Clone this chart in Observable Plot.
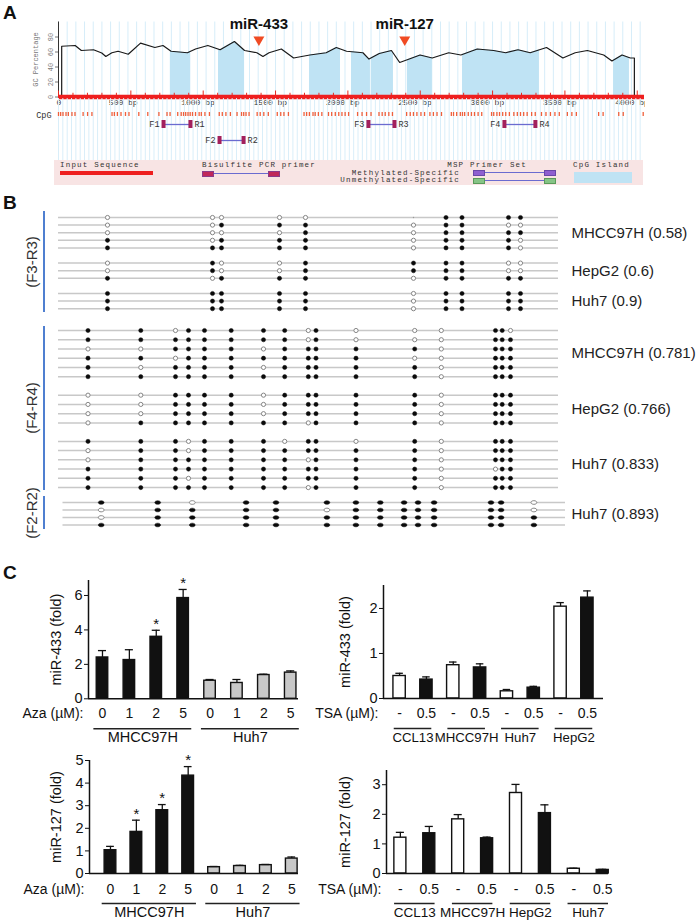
<!DOCTYPE html>
<html><head><meta charset="utf-8">
<script src="https://cdn.jsdelivr.net/npm/d3@7"></script>
<script src="https://cdn.jsdelivr.net/npm/@observablehq/plot@0.6"></script>
<style>
html,body{margin:0;padding:0;background:#fff;}
#fig{position:relative;width:700px;height:924px;overflow:hidden;background:#fff;}
#fig svg{display:block;}
</style></head>
<body><div id="fig"></div>
<script>
// ================= DATA =================
// Panel A: GC percentage profile (bp, %)
const gcBp  = [22,22,115,158,242,299,327,369,412,482,567,666,722,778,891,947,1032,1117,1216,1286,1371,1413,1455,1540,1625,1737,1850,1920,1991,2104,2146,2217,2301,2358,2429,2499,2583,2697,2781,2894,3007,3091,3176,3260,3373,3486,3571,3655,3768,3825,3895,3952,3980,3980];
const gcPct = [0,67.7,68.7,62,63,58.7,54,59,61,57,71.8,66,68.7,61,59,64,68.7,63,74,62,59,54,59,64,52,56,59,66,61,59,50.6,58,62,46,51,56,52,59,56,64,62,59,63,59,66,52,59,62,56,48,56,52,52,0];
const islandStart = [773,1106,1735,2025,2163,2412,2792,3836];
const islandEnd   = [914,1286,1949,2156,2315,2584,3324,3946];
const mirNames = ["miR-433","miR-127"];
const mirBp = [1385,2393];
const bpTicks = [0,500,1000,1500,2000,2500,3000,3500,4000];
const gcTicks = [0,20,40,60,80];
const cpgSites = [0,15,31,52,68,93,114,170,201,231,370,386,407,432,463,487,555,617,694,750,771,824,848,864,879,895,910,926,947,972,987,1012,1043,1111,1132,1157,1188,1234,1265,1280,1296,1317,1373,1394,1419,1450,1512,1536,1558,1589,1697,1715,1734,1759,1774,1796,1820,1866,1888,1913,1937,1959,1981,2005,2067,2098,2129,2160,2215,2237,2258,2283,2308,2406,2431,2453,2477,2505,2530,2567,2591,2616,2647,2715,2730,2752,2777,2792,2807,2832,2854,2875,2900,2925,2993,3008,3030,3048,3070,3091,3116,3147,3171,3193,3215,3239,3270,3295,3338,3369,3400,3431,3461,3517,3548,3579,3733,3764,3872,3903,4041];
const primerIds  = ["1","2","3","4"];
const primerF    = [726,1113,2142,3082];
const primerR    = [912,1279,2322,3296];
const primerLane = ["upper","lower","upper","upper"];

// Panel B: bisulfite sequencing (1 = methylated, 0 = unmethylated, . = not read)
const f3Sites = [49,154,163,221,247,355,387.5,403.5,450,462];
const f3Names = ["MHCC97H (0.58)","HepG2 (0.6)","Huh7 (0.9)"];
const f3Mhcc  = ["00000.1111","0011101100","0000101111","1011101110","1111101110"];
const f3Hepg2 = ["0100111100","0100111100","1011101111"];
const f3Huh7  = ["1111101111","1111101111","1111101111"];

const f4Sites = [29.5,82.3,117,130,146,172.7,205,226.2,249.8,257.5,297.5,356.2,382.8,437,443.7,452];
const f4Names = ["MHCC97H (0.781)","HepG2 (0.766)","Huh7 (0.833)"];
const f4Mhcc  = ["1101111101000110","1111111101000111","0011110111110111","1101111111100111","1011110111110111","1111111111110111"];
const f4Hepg2 = ["0011110111110111","0011110111110111","0011110111110111","0111111101110111"];
const f4Huh7  = ["1110111011010111","0110111111110111","0111111101110111","1111111111110011","1110111111110111","1111111101110111"];

const f2Sites = [38.2,94.7,129.3,183.1,213,263.9,292.9,317.3,341.1,355,371.1,428,438.1,470.9];
const f2Names = ["Huh7 (0.893)"];
const f2Huh7 = ["11011111111110","01111011111110","01111111111111","11111111111111"];

// Panel C
const azaLabels = ["0","1","2","5","0","1","2","5"];
const azaGroups = ["MHCC97H","Huh7"];
const azaGroupStart = [0,4], azaGroupEnd = [3,7];
const c1Val = [2.4,2.25,3.6,5.85,1.05,0.92,1.38,1.52];
const c1Sd  = [0.4,0.6,0.38,0.5,0.07,0.2,0.05,0.1];
const c1Star = [0,0,1,1,0,0,0,0];
const c3Val = [1.03,1.84,2.8,4.33,0.28,0.33,0.37,0.66];
const c3Sd  = [0.17,0.52,0.25,0.4,0.03,0.03,0.03,0.07];
const c3Star = [0,1,1,1,0,0,0,0];
const tsaLabels = ["-","0.5","-","0.5","-","0.5","-","0.5"];
const c2Groups = ["CCL13","MHCC97H","Huh7","HepG2"];
const c4Groups = ["CCL13","MHCC97H","HepG2","Huh7"];
const tsaGroupStart = [0,2,4,6], tsaGroupEnd = [1,3,5,7];
const c2Val = [0.5,0.42,0.74,0.69,0.16,0.24,2.04,2.24];
const c2Sd  = [0.06,0.06,0.07,0.08,0.04,0.03,0.09,0.15];
const c4Val = [1.21,1.36,1.83,1.19,2.72,2.04,0.16,0.12];
const c4Sd  = [0.18,0.23,0.16,0.04,0.29,0.28,0.02,0.02];
const noStar = [0,0,0,0,0,0,0,0];

// ================= HELPERS =================
const FONT = '"Liberation Sans", Arial, Helvetica, sans-serif';
const MONO = '"Liberation Mono", "DejaVu Sans Mono", monospace';
const fig = document.getElementById("fig");
function place(node, left, top) {
  const d = document.createElement("div");
  d.style.cssText = `position:absolute;left:${left}px;top:${top}px;`;
  d.appendChild(node); fig.appendChild(d); return d;
}
function html(text, css) {
  const d = document.createElement("div");
  d.style.cssText = "position:absolute;white-space:nowrap;" + css;
  if (text != null) d.textContent = text;
  fig.appendChild(d); return d;
}
const triDown = {draw(ctx, size) {
  const r = Math.sqrt(size / Math.PI);
  ctx.moveTo(-r, -0.8 * r); ctx.lineTo(r, -0.8 * r); ctx.lineTo(0, 0.9 * r); ctx.closePath();
}};
const ellipse = {draw(ctx, size) {
  const r = Math.sqrt(size / Math.PI); const ry = r / 1.25, rx = ry * 1.6, k = 0.5523;
  ctx.moveTo(rx, 0);
  ctx.bezierCurveTo(rx, k * ry, k * rx, ry, 0, ry);
  ctx.bezierCurveTo(-k * rx, ry, -rx, k * ry, -rx, 0);
  ctx.bezierCurveTo(-rx, -k * ry, -k * rx, -ry, 0, -ry);
  ctx.bezierCurveTo(k * rx, -ry, rx, -k * ry, rx, 0);
  ctx.closePath();
}};

// ================= PANEL A =================
const gc = gcBp.map((bp, i) => ({bp, pct: gcPct[i]}));
const mirs = mirNames.map((name, i) => ({name, bp: mirBp[i]}));
const A1H = 112, A1base = 96.5, A1top = 21.5;
const a1 = Plot.plot({
  width: 645, height: A1H,
  marginLeft: 58, marginRight: 1, marginTop: A1top, marginBottom: A1H - A1base,
  style: {background: "transparent", fontFamily: MONO, color: "#333"},
  x: {domain: [0, 4050], axis: null},
  y: {domain: [0, 100], axis: null},
  marks: [
    Plot.ruleX(d3.range(0, 4050, 60), {stroke: "#d6edf9", strokeWidth: 1}),
    Plot.areaY(gc, {x: "bp", y: "pct", fill: "#bfe3f4"}),
    Plot.line(gc, {x: "bp", y: "pct", stroke: "#1a1a1a", strokeWidth: 1.2}),
    Plot.ruleX([0], {y1: 0, y2: 100, stroke: "#333", strokeWidth: 1}),
    Plot.axisY({ticks: gcTicks, tickSize: 3, tickRotate: -90, tickPadding: 3, fontSize: 7, color: "#777",
      label: "GC Percentage", labelAnchor: "center", labelOffset: 25, labelArrow: "none", fontFamily: MONO}),
    Plot.ruleX(d3.range(0, 4001, 100), {y1: 0, y2: d => d % 500 === 0 ? 8 : 5, stroke: "#e8281e", strokeWidth: 1}),
    Plot.ruleY([0], {stroke: "#ee1f1f", strokeWidth: 4.5}),
    Plot.text(bpTicks.filter(d => d === 0), {x: d => d, text: d => String(d), frameAnchor: "bottom", dy: 8, textAnchor: "start", dx: -2, fontSize: 8, fill: "#333"}),
    Plot.text(bpTicks.filter(d => d > 0), {x: d => d, text: d => d + " bp", frameAnchor: "bottom", dy: 8, textAnchor: "start", dx: -22, fontSize: 8, fill: "#333"}),
    Plot.dot(mirs, {x: "bp", frameAnchor: "top", dy: 19, symbol: triDown, r: 5.5, fill: "#f04b23", stroke: "none"}),
    Plot.text(mirs, {x: "bp", text: "name", frameAnchor: "top", dy: -4, fontSize: 15, fontWeight: "bold", fontFamily: FONT, fill: "#111"})
  ]
});
// clip blue fill to CpG islands
{
  const xs = a1.scale("x");
  const ns = "http://www.w3.org/2000/svg";
  const defs = document.createElementNS(ns, "defs");
  const cp = document.createElementNS(ns, "clipPath"); cp.setAttribute("id", "islandClip");
  islandStart.forEach((s, i) => {
    const r = document.createElementNS(ns, "rect");
    const x0 = xs.apply(s), x1 = xs.apply(islandEnd[i]);
    r.setAttribute("x", x0); r.setAttribute("width", x1 - x0); r.setAttribute("y", 0); r.setAttribute("height", A1H);
    cp.appendChild(r);
  });
  defs.appendChild(cp); a1.insertBefore(defs, a1.firstChild);
  const g = a1.querySelector('g[aria-label="area"]');
  if (g) g.setAttribute("clip-path", "url(#islandClip)");
}
place(a1, 0, 0);

const primers = primerIds.map((id, i) => ({id, f: primerF[i], r: primerR[i], lane: primerLane[i]}));
const primerEnds = primers.flatMap(p => [{x: p.f, lane: p.lane}, {x: p.r, lane: p.lane}]);
const lanes = ["c0","c1","u0","u1","u2","g","l0","l1","l2"];
const mid = d => d.lane === "upper" ? "u1" : "l1";
const a2 = Plot.plot({
  width: 645, height: 62, marginLeft: 58, marginRight: 1, marginTop: 0, marginBottom: 0,
  style: {background: "transparent", fontFamily: MONO, color: "#333"},
  x: {domain: [0, 4050], axis: null},
  y: {type: "point", domain: lanes, range: [14, 46], padding: 0, axis: null},
  marks: [
    Plot.ruleX(d3.range(0, 4050, 30), {stroke: "#d9eef9", strokeWidth: 1}),
    Plot.text(["CpG"], {y: () => "c0", frameAnchor: "left", textAnchor: "end", dx: -7, dy: 2.5, text: d => d, fontSize: 8.5, fill: "#333"}),
    Plot.ruleX(cpgSites, {x: d => d, y1: () => "c0", y2: () => "c1", stroke: "#f0603c", strokeWidth: 1.3}),
    Plot.ruleY(primers, {x1: "f", x2: "r", y: mid, stroke: "#6b6bd0", strokeWidth: 1.3}),
    Plot.ruleX(primerEnds, {x: "x", y1: d => d.lane === "upper" ? "u0" : "l0", y2: d => d.lane === "upper" ? "u2" : "l2", stroke: "#a3205c", strokeWidth: 4}),
    Plot.text(primers, {x: "f", y: mid, text: d => "F" + d.id, textAnchor: "end", dx: -4, fontSize: 8.5, fill: "#333"}),
    Plot.text(primers, {x: "r", y: mid, text: d => "R" + d.id, textAnchor: "start", dx: 4, fontSize: 8.5, fill: "#333"})
  ]
});
place(a2, 0, 98);

// legend (MethPrimer style)
const LM = `font:7.5px ${MONO};letter-spacing:1.2px;color:#333;line-height:7px;`;
html(null, "left:54px;top:160px;width:589px;height:25px;background:#f8e4e4;");
html("Input Sequence", `left:60px;top:162px;${LM}`);
html(null, "left:60px;top:171px;width:93px;height:4px;background:#ee1f1f;");
html("Bisulfite PCR primer", `left:202px;top:162px;${LM}`);
html(null, "left:206px;top:173px;width:70px;height:1px;background:#6b6bd0;");
html(null, "left:202px;top:171px;width:10px;height:4px;background:#c0285a;border:1px solid #8a3a8a;");
html(null, "left:268px;top:171px;width:10px;height:4px;background:#c0285a;border:1px solid #8a3a8a;");
html("MSP Primer Set", `right:${700-527}px;top:162px;${LM}`);
html("Methylated-Specific", `right:${700-460}px;top:169.5px;${LM}`);
html("Unmethylated-Specific", `right:${700-460}px;top:177px;${LM}`);
html(null, "left:478px;top:172px;width:72px;height:1px;background:#6b6bd0;");
html(null, "left:473px;top:170px;width:10px;height:4px;background:#8f5fd0;border:1px solid #6a48a8;");
html(null, "left:544px;top:170px;width:10px;height:4px;background:#8f5fd0;border:1px solid #6a48a8;");
html(null, "left:478px;top:180px;width:72px;height:1px;background:#6b6bd0;");
html(null, "left:473px;top:178px;width:10px;height:4px;background:#86c486;border:1px solid #5a9a5a;");
html(null, "left:544px;top:178px;width:10px;height:4px;background:#86c486;border:1px solid #5a9a5a;");
html("CpG Island", `left:573px;top:162px;${LM}`);
html(null, "left:574px;top:172px;width:58px;height:11px;background:#bfe3f4;");

// ================= PANEL B =================
// rows are numbered down the block; one empty row index separates cell lines
function methPlot(sites, groupRows, names, top, height, rowTop, step, left, right, shape, r, labelDx) {
  let k = 0; const rows = [], dots = [], labels = [];
  groupRows.forEach((grp, g) => {
    if (g > 0) k += 1;
    const first = k;
    grp.forEach(s => { rows.push(k); [...s].forEach((c, j) => dots.push({x: sites[j], y: k, m: c})); k++; });
    labels.push({y: (first + k - 1) / 2, text: names[g]});
  });
  const n = k - 1;
  return Plot.plot({
    width: 700, height, marginLeft: left, marginRight: 700 - right, marginTop: 0, marginBottom: 0,
    style: {background: "transparent", fontFamily: FONT, overflow: "visible"},
    x: {domain: [0, right - left], axis: null},
    y: {domain: [0, n], range: [rowTop - top, rowTop - top + n * step], axis: null},
    marks: [
      Plot.ruleY(rows, {y: d => d, stroke: "#c8c8c8", strokeWidth: 1.5}),
      Plot.dot(dots.filter(d => d.m === "0"), {x: "x", y: "y", r, symbol: shape, fill: "white", stroke: "#7a7a7a", strokeWidth: 0.9}),
      Plot.dot(dots.filter(d => d.m === "1"), {x: "x", y: "y", r, symbol: shape, fill: "#0a0a0a", stroke: "#0a0a0a", strokeWidth: 0.5}),
      Plot.dot(dots.filter(d => d.m === "."), {x: "x", y: "y", r: 0.7, fill: "#999"}),
      Plot.text(labels, {y: "y", text: "text", frameAnchor: "right", textAnchor: "start", dx: labelDx, fontSize: 15, fill: "#222"})
    ]
  });
}
place(methPlot(f3Sites, [f3Mhcc, f3Hepg2, f3Huh7], f3Names, 205, 115, 217, 7.6, 58, 558, "circle", 2.1, 13), 0, 205);
place(methPlot(f4Sites, [f4Mhcc, f4Hepg2, f4Huh7], f4Names, 320, 175, 330, 9.24, 58, 558, "circle", 2.1, 13), 0, 320);
place(methPlot(f2Sites, [f2Huh7], f2Names, 495, 35, 502, 7.5, 62.5, 565, ellipse, 2.3, 6), 0, 495);

// amplicon brackets
html(null, "left:43px;top:211px;width:2px;height:101px;background:#4f7fd0;");
html(null, "left:43px;top:326px;width:2px;height:164px;background:#4f7fd0;");
html(null, "left:43px;top:496px;width:2px;height:33px;background:#4f7fd0;");
const RL = `transform:translate(-50%,-50%) rotate(-90deg);font:15px ${FONT};color:#333;`;
html("(F3-R3)", `left:31px;top:262px;${RL}`);
html("(F4-R4)", `left:31px;top:408px;${RL}`);
html("(F2-R2)", `left:31px;top:513px;${RL}`);

// ================= PANEL C =================
function barChart(o) {
  const data = o.vals.map((v, i) => ({i, v, sd: o.sds[i], lab: o.labels[i], fill: o.fills[i], star: o.stars[i]}));
  const groups = o.groups.map((g, k) => ({g, s: o.gStart[k], e: o.gEnd[k]}));
  const H = o.height;
  return Plot.plot({
    width: 700, height: H,
    marginLeft: o.left, marginRight: 700 - o.right,
    marginTop: o.yTop - o.top, marginBottom: o.top + H - o.yZero,
    style: {background: "transparent", fontFamily: FONT, fontSize: "14px", color: "#111", overflow: "visible"},
    x: {domain: o.xDomain, axis: null},
    y: {domain: [0, o.yMax], axis: null},
    marks: [
      Plot.rectY(data, {x1: d => d.i - o.halfW, x2: d => d.i + o.halfW, y1: 0, y2: "v", fill: "fill", stroke: "#111", strokeWidth: 1.4}),
      Plot.ruleX(data, {x: "i", y1: "v", y2: d => d.v + d.sd, stroke: "#111", strokeWidth: 1.3}),
      Plot.ruleY(data, {y: d => d.v + d.sd, x1: d => d.i - o.capW, x2: d => d.i + o.capW, stroke: "#111", strokeWidth: 1.3}),
      Plot.text(data.filter(d => d.star), {x: "i", y: d => d.v + d.sd, text: () => "*", dy: -6, fontSize: 15}),
      Plot.ruleY([0], {stroke: "#111", strokeWidth: 1.5}),
      Plot.ruleX([o.xDomain[0]], {stroke: "#111", strokeWidth: 1.5}),
      Plot.axisY({ticks: o.yTicks, tickFormat: d => String(d), tickSize: 4, tickPadding: 2, fontSize: 14.5,
        label: o.yLabel, labelAnchor: "center", labelOffset: o.labelOffset, labelArrow: "none"}),
      Plot.text(data, {x: "i", text: "lab", frameAnchor: "bottom", dy: o.dyTick, fontSize: 14}),
      Plot.text([o.treat], {frameAnchor: "bottom-left", text: d => d, textAnchor: "end", dx: -5, dy: o.dyTick, fontSize: 14}),
      Plot.ruleY(groups, {y: 0, x1: d => d.s - o.pad, x2: d => d.e + o.pad, dy: o.dyLine, stroke: "#222", strokeWidth: 1.4}),
      Plot.text(groups, {x: d => (d.s + d.e) / 2, text: "g", frameAnchor: "bottom", dy: o.dyName, fontSize: o.nameSize})
    ]
  });
}
const blackGray = ["#111","#111","#111","#111","#c8c8c8","#c8c8c8","#c8c8c8","#c8c8c8"];
const whiteBlack = ["white","#111","white","#111","white","#111","white","#111"];
place(barChart({top: 566, height: 190, left: 88, right: 298, yTop: 580, yZero: 698.3, yMax: 6.87, yTicks: [0,2,4,6],
  xDomain: [-0.52, 7.29], halfW: 0.214, capW: 0.15, vals: c1Val, sds: c1Sd, labels: azaLabels, fills: blackGray, stars: c1Star,
  groups: azaGroups, gStart: azaGroupStart, gEnd: azaGroupEnd, pad: 0.32, treat: "Aza (µM):", yLabel: "miR-433 (fold)", labelOffset: 37.5,
  dyTick: 19, dyLine: 30, dyName: 43, nameSize: 14.5}), 0, 566);
place(barChart({top: 566, height: 190, left: 383, right: 603, yTop: 585, yZero: 698, yMax: 2.51, yTicks: [0,1,2],
  xDomain: [-0.6, 7.6], halfW: 0.23, capW: 0.14, vals: c2Val, sds: c2Sd, labels: tsaLabels, fills: whiteBlack, stars: noStar,
  groups: c2Groups, gStart: tsaGroupStart, gEnd: tsaGroupEnd, pad: 0.2, treat: "TSA (µM):", yLabel: "miR-433 (fold)", labelOffset: 43.5,
  dyTick: 19, dyLine: 30, dyName: 43, nameSize: 13.2}), 0, 566);
place(barChart({top: 750, height: 174, left: 89, right: 298, yTop: 760, yZero: 873, yMax: 5.0, yTicks: [0,1,2,3,4,5],
  xDomain: [-0.81, 7.26], halfW: 0.226, capW: 0.15, vals: c3Val, sds: c3Sd, labels: azaLabels, fills: blackGray, stars: c3Star,
  groups: azaGroups, gStart: azaGroupStart, gEnd: azaGroupEnd, pad: 0.32, treat: "Aza (µM):", yLabel: "miR-127 (fold)", labelOffset: 39,
  dyTick: 20, dyLine: 30, dyName: 43, nameSize: 14.5}), 0, 750);
place(barChart({top: 750, height: 174, left: 386, right: 608, yTop: 770, yZero: 873, yMax: 3.48, yTicks: [0,1,2,3],
  xDomain: [-0.48, 7.2], halfW: 0.208, capW: 0.14, vals: c4Val, sds: c4Sd, labels: tsaLabels, fills: whiteBlack, stars: noStar,
  groups: c4Groups, gStart: tsaGroupStart, gEnd: tsaGroupEnd, pad: 0.2, treat: "TSA (µM):", yLabel: "miR-127 (fold)", labelOffset: 46.5,
  dyTick: 20, dyLine: 30, dyName: 43, nameSize: 13.5}), 0, 750);

// panel letters
const PL = `font:bold 19px ${FONT};color:#111;`;
html("A", `left:3px;top:2px;${PL}`);
html("B", `left:3px;top:192px;${PL}`);
html("C", `left:3px;top:562px;${PL}`);
</script>
</body></html>
